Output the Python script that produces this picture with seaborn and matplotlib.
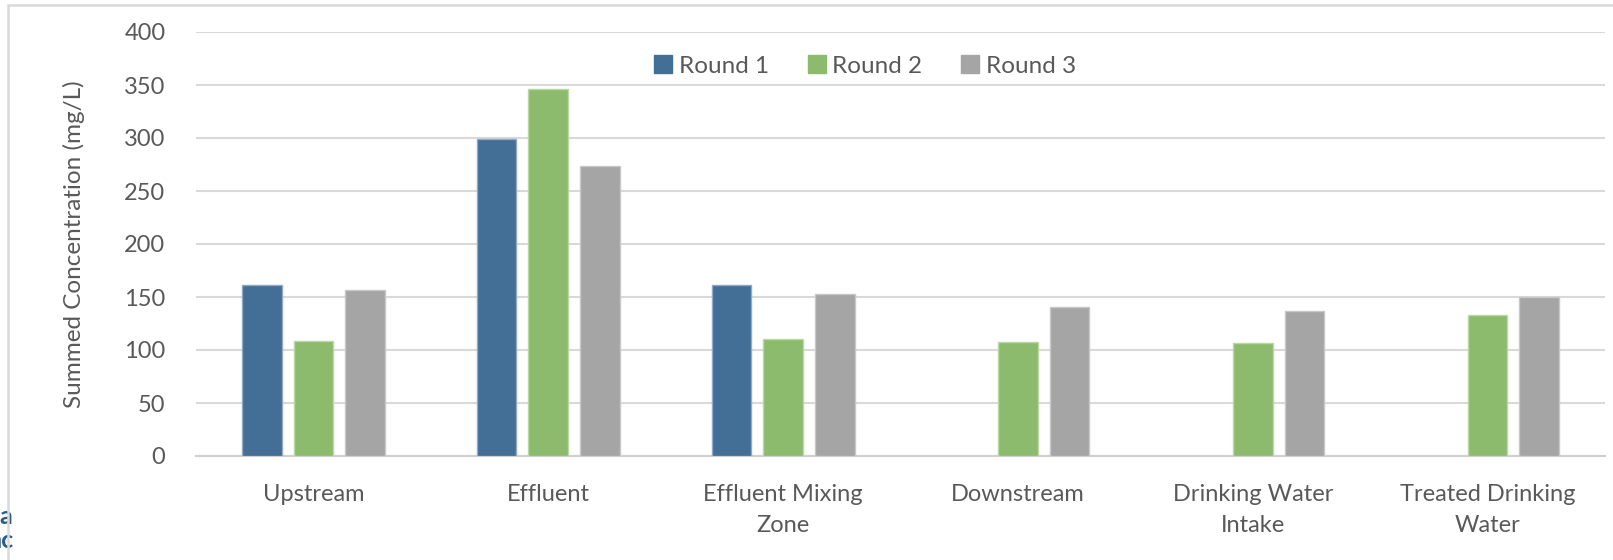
import numpy as np
import pandas as pd
import seaborn as sns
import matplotlib.pyplot as plt
from matplotlib.patches import Rectangle
from matplotlib.lines import Line2D

# Sampling locations and summed concentrations per sampling round (mg/L)
locations = ["Upstream", "Effluent", "Effluent Mixing\nZone", "Downstream",
             "Drinking Water\nIntake", "Treated Drinking\nWater"]
rounds = ["Round 1", "Round 2", "Round 3"]
round1 = [161.6, 298.8, 161.6, np.nan, np.nan, np.nan]
round2 = [108.5, 346.2, 110.4, 107.3, 106.3, 133.3]
round3 = [156.3, 273.3, 152.8, 140.9, 136.5, 149.7]
y_ticks = [0, 50, 100, 150, 200, 250, 300, 350, 400]

colors = {"Round 1": "#436E96", "Round 2": "#8DBB6D", "Round 3": "#A5A5A5"}
edges = {"Round 1": "#8FA9C4", "Round 2": "#B9D8A4", "Round 3": "#C8C8C8"}

rows = []
for name, vals in zip(rounds, [round1, round2, round3]):
    for loc, v in zip(locations, vals):
        rows.append({"Location": loc, "Round": name, "Value": v})
df = pd.DataFrame(rows)

sns.set_theme(style="white")
plt.rcParams["font.family"] = ["Lato", "DejaVu Sans"]
text_color = "#595959"
grid_color = "#D9D9D9"

fig = plt.figure(figsize=(16.13, 5.6), dpi=100)
ax = fig.add_axes([196 / 1613, 1 - 456 / 560, (1605 - 196) / 1613, (456 - 32) / 560])

sns.barplot(data=df.dropna(), x="Location", y="Value", hue="Round",
            order=locations, hue_order=rounds, palette=colors, saturation=1,
            width=0.66, gap=0.23, errorbar=None, ax=ax, legend=False,
            zorder=3)

# light outline on each bar
for container, name in zip(ax.containers, rounds):
    for bar in container:
        bar.set_edgecolor(edges[name])
        bar.set_linewidth(1.0)

ax.set_ylim(0, 400)
ax.set_xlim(-0.5, len(locations) - 0.5)
ax.set_yticks(y_ticks)
ax.set_yticklabels([str(t) for t in y_ticks])
ax.yaxis.grid(True, color=grid_color, linewidth=1.5, zorder=0)
ax.set_axisbelow(True)
for side in ["left", "right", "top"]:
    ax.spines[side].set_visible(False)
ax.spines["bottom"].set_color("#D0D0D0")
ax.spines["bottom"].set_linewidth(1.5)
ax.tick_params(axis="both", length=0, labelsize=17, colors=text_color)
ax.tick_params(axis="y", pad=22)
ax.tick_params(axis="x", pad=20)
for lbl in ax.get_xticklabels():
    lbl.set_linespacing(1.6)

ax.set_xlabel("")
ax.set_ylabel("Summed Concentration (mg/L)", fontsize=17.5, color=text_color)
ax.yaxis.set_label_coords((85 - 196) / (1605 - 196), 0.5)

handles = [Line2D([0], [0], marker="s", linestyle="none", markersize=13,
                  markerfacecolor=colors[r], markeredgecolor=colors[r]) for r in rounds]
fig.legend(handles, rounds, loc="center", bbox_to_anchor=(864 / 1613, 1 - 66 / 560),
           ncol=3, frameon=False, fontsize=17.5, labelcolor=text_color,
           handletextpad=0.2, columnspacing=1.5, handlelength=0.9)

# outer chart frame
fig.patches.append(Rectangle((8 / 1613, -0.05), 1.1, 1 - 5 / 560 + 0.05,
                             transform=fig.transFigure, fill=False,
                             edgecolor=grid_color, linewidth=1.8, zorder=10))

# neighbouring caption text at the page edge
fig.text(12 / 1613, 1 - 517 / 560, "a", ha="right", va="center", fontsize=18,
         fontweight="bold", color="#2E5C86", zorder=1)
fig.text(14 / 1613, 1 - 541 / 560, "nc", ha="right", va="center", fontsize=18,
         fontweight="bold", color="#2E5C86", zorder=1)

fig.savefig("out.png", dpi=100)
